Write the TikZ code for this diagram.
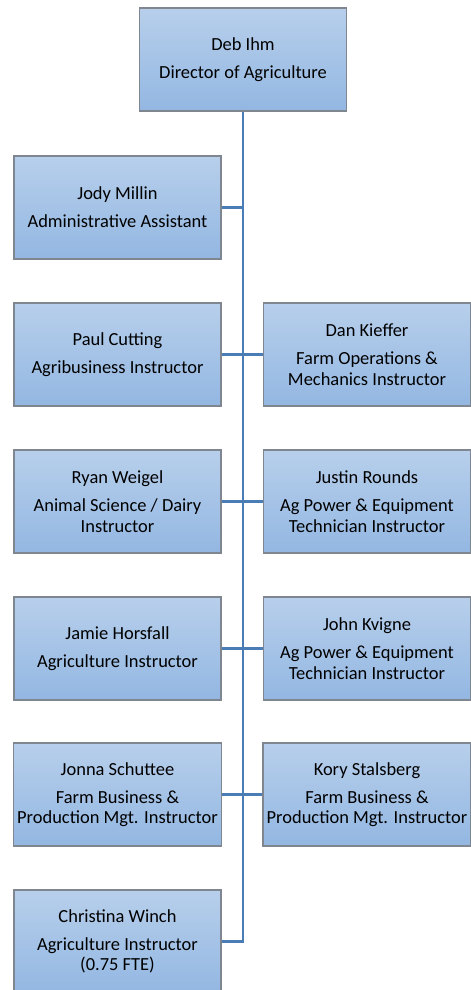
\documentclass[tikz,border=0pt]{standalone}
\usepackage{fontspec}
\setmainfont{Carlito}
\usepackage{tikz}
\usetikzlibrary{calc}
\usetikzlibrary{positioning}
\definecolor{boxtop}{HTML}{B7CFEB}
\definecolor{boxbottom}{HTML}{93B7E2}
\definecolor{boxedge}{HTML}{7F8690}
\definecolor{linkblue}{HTML}{4A7DB5}
\tikzset{
  mybox/.style={
    draw=boxedge,
    shape=rectangle,
    line width=0.9pt,
    top color=boxtop,
    bottom color=boxbottom,
    align=center,
    inner sep=2pt,
    minimum width=4.14cm,
    minimum height=2.06cm,
    font=\fontsize{10.5}{11.6}\selectfont
  },
  myline/.style={
    draw=linkblue,
    line width=1.2pt,
  },
}

\begin{document}
\begin{tikzpicture}
    \useasboundingbox (0,0) rectangle (9.42,-19.8);

    \node [mybox] (deb) at (4.86, -1.19) {Deb Ihm\\[4.4pt]Director of Agriculture};

    \node [mybox] (jody) at (2.35, -4.15) {Jody Millin\\[4.4pt]Administrative Assistant};

    \node [mybox] (paul) at (2.35, -7.09) {Paul Cutting\\[4.4pt]Agribusiness Instructor};
    \node [mybox] (dan) at (7.34, -7.09) {Dan Kieffer\\[4.4pt]Farm Operations \&\\Mechanics Instructor};

    \node [mybox] (ryan) at (2.35, -10.03) {Ryan Weigel\\[4.4pt]Animal Science / Dairy\\Instructor};
    \node [mybox] (justin) at (7.34, -10.03) {Justin Rounds\\[4.4pt]Ag Power \& Equipment\\Technician Instructor};

    \node [mybox] (jamie) at (2.35, -12.97) {Jamie Horsfall\\[4.4pt]Agriculture Instructor};
    \node [mybox] (john) at (7.34, -12.97) {John Kvigne\\[4.4pt]Ag Power \& Equipment\\Technician Instructor};

    \node [mybox] (jonna) at (2.35, -15.89) {Jonna Schuttee\\[4.4pt]Farm Business \&\\Production Mgt. Instructor};
    \node [mybox] (kory) at (7.34, -15.89) {Kory Stalsberg\\[4.4pt]Farm Business \&\\Production Mgt. Instructor};

    \node [mybox] (christina) at (2.35, -18.83) {Christina Winch\\[4.4pt]Agriculture Instructor\\(0.75 FTE)};

    % trunk and branches
    \coordinate (end) at (deb.south |- christina.east);
    \draw [myline] (deb.south) -- (end) -- (christina.east);
    \foreach \n in {jody, paul, ryan, jamie, jonna}
      \draw [myline] (\n.east) -- (\n.east -| deb.south);
    \foreach \n in {dan, justin, john, kory}
      \draw [myline] (\n.west) -- (\n.west -| deb.south);

  \end{tikzpicture}
\end{document}
